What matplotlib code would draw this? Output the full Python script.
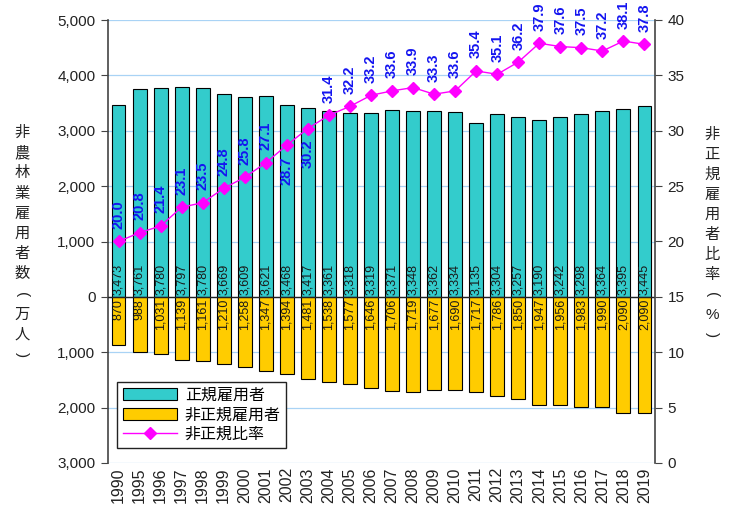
import matplotlib
matplotlib.use("Agg")
import matplotlib.pyplot as plt
import numpy as np
from matplotlib.ticker import FuncFormatter, MultipleLocator

plt.rcParams["font.family"] = ["Liberation Sans", "Noto Sans CJK JP", "DejaVu Sans"]

# =========================
# データ
# =========================
years = ["1990", "1995", "1996", "1997", "1998", "1999", "2000", "2001", "2002",
         "2003", "2004", "2005", "2006", "2007", "2008", "2009", "2010", "2011",
         "2012", "2013", "2014", "2015", "2016", "2017", "2018", "2019"]
regular = [3473, 3761, 3780, 3797, 3780, 3669, 3609, 3621, 3468, 3417, 3361, 3318, 3319,
           3371, 3348, 3362, 3334, 3135, 3304, 3257, 3190, 3242, 3298, 3364, 3395, 3445]
non_regular = [870, 988, 1031, 1139, 1161, 1210, 1258, 1347, 1394, 1481, 1538, 1577, 1646,
               1706, 1719, 1677, 1690, 1717, 1786, 1850, 1947, 1956, 1983, 1990, 2090, 2090]
ratio = [20.0, 20.8, 21.4, 23.1, 23.5, 24.8, 25.8, 27.1, 28.7, 30.2, 31.4, 32.2, 33.2,
         33.6, 33.9, 33.3, 33.6, 35.4, 35.1, 36.2, 37.9, 37.6, 37.5, 37.2, 38.1, 37.8]
labels_below = ["2002", "2003"]

TEAL = "#33CCCC"
YELLOW = "#FFCC00"
MAGENTA = "#FF00FF"
BLUE = "#1414F0"
GRID = "#A9D3F5"
AXIS = "#444444"

# =========================
# 図
# =========================
fig = plt.figure(figsize=(7.33, 5.08), dpi=100)
ax = fig.add_axes([108 / 733, 45 / 508, 547 / 733, 443 / 508])

x = np.arange(len(years))
width = 0.66

ax.bar(x, regular, width=width, color=TEAL, edgecolor="black", linewidth=0.8,
       label="正規雇用者", zorder=2)
ax.bar(x, -np.array(non_regular), width=width, color=YELLOW, edgecolor="black",
       linewidth=0.8, label="非正規雇用者", zorder=2)
ax.axhline(0, color="#222222", lw=1.0, zorder=3)

for xi, v in zip(x, regular):
    ax.text(xi, 35, f"{v:,}", rotation=90, ha="center", va="bottom",
            fontsize=9, color="#1a1a1a", zorder=4)
for xi, v in zip(x, non_regular):
    ax.text(xi, -35, f"{v:,}", rotation=90, ha="center", va="top",
            fontsize=9, color="#1a1a1a", zorder=4)

ax.set_xlim(-0.5, len(years) - 0.5)
ax.set_ylim(-3000, 5000)
ax.yaxis.set_major_locator(MultipleLocator(1000))
ax.yaxis.set_major_formatter(FuncFormatter(lambda v, _: f"{abs(v):,.0f}"))
ax.grid(axis="y", color=GRID, lw=0.9, zorder=0)
ax.set_axisbelow(True)

ax.set_xticks(x)
ax.set_xticklabels(years, rotation=90, fontsize=11.5, color="#222222")
ax.tick_params(axis="x", length=0, pad=3)
ax.tick_params(axis="y", direction="out", length=5, color=AXIS, labelsize=11,
               labelcolor="#222222", pad=4)

for s in ["top", "right", "bottom"]:
    ax.spines[s].set_visible(False)
ax.spines["left"].set_color(AXIS)
ax.spines["left"].set_linewidth(1.2)

# 右軸：非正規比率
ax2 = ax.twinx()
ax2.set_ylim(0, 40)
ax2.yaxis.set_major_locator(MultipleLocator(5))
ax2.plot(x, ratio, color=MAGENTA, lw=1.0, marker="D", markersize=6,
         markeredgecolor=MAGENTA, label="非正規比率", zorder=5)

for xi, yr, r in zip(x, years, ratio):
    if yr in labels_below:
        ax2.annotate(f"{r:.1f}", (xi, r), xytext=(0, -8), textcoords="offset points",
                     rotation=90, ha="center", va="top", fontsize=10.5,
                     fontweight="bold", color=BLUE)
    else:
        ax2.annotate(f"{r:.1f}", (xi, r), xytext=(0, 9), textcoords="offset points",
                     rotation=90, ha="center", va="bottom", fontsize=10.5,
                     fontweight="bold", color=BLUE, annotation_clip=False)

for s in ["top", "left", "bottom"]:
    ax2.spines[s].set_visible(False)
ax2.spines["right"].set_color(AXIS)
ax2.spines["right"].set_linewidth(1.2)
ax2.tick_params(axis="y", direction="out", length=5, color=AXIS, labelsize=11,
                labelcolor="#222222", pad=4)


# 軸ラベル（縦書き、1文字ずつ）
def vertical_label(text, xpix, ytop, ybottom):
    step = (ybottom - ytop) / (len(text) - 1)
    for i, ch in enumerate(text):
        rot = -90 if ch in "()" else 0
        fig.text(xpix / 733, 1 - (ytop + i * step) / 508, ch, ha="center", va="center",
                 fontsize=11, rotation=rot, rotation_mode="anchor", color="#222222")


vertical_label("非農林業雇用者数(万人)", 22, 133, 355)
vertical_label("非正規雇用者比率(%)", 712, 135, 335)

# 凡例
h1, l1 = ax.get_legend_handles_labels()
h2, l2 = ax2.get_legend_handles_labels()
leg = ax2.legend(h1 + h2, l1 + l2, loc="upper left",
                 bbox_to_anchor=(117 / 733, 1 - 382 / 508), bbox_transform=fig.transFigure,
                 borderaxespad=0, fancybox=False, edgecolor="#222222", framealpha=1,
                 fontsize=11.5, borderpad=0.35, labelspacing=0.3, handlelength=3.4,
                 handleheight=0.8, handletextpad=0.5, numpoints=1)
leg.get_frame().set_linewidth(1.0)

fig.savefig("out.png", dpi=100)
